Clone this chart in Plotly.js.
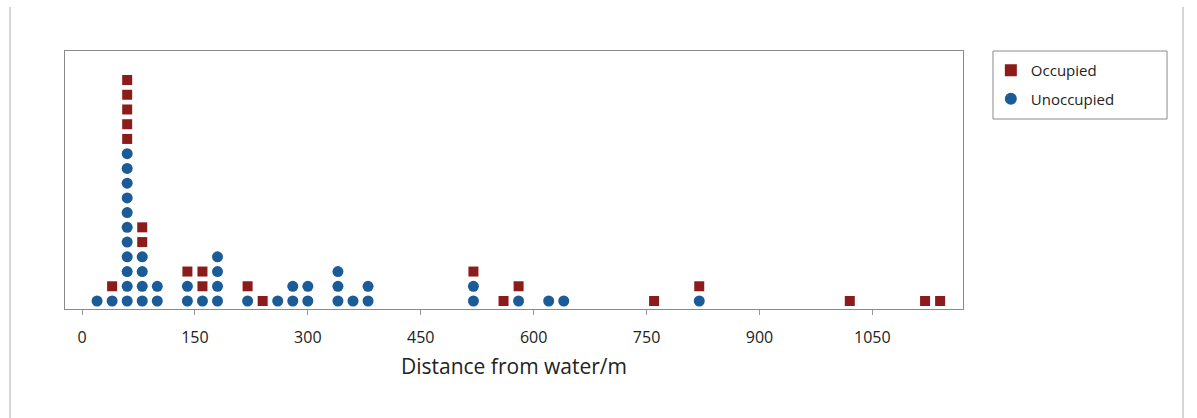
<!DOCTYPE html>
<html>
<head>
<meta charset="utf-8">
<script src="https://cdn.plot.ly/plotly-3.0.1.min.js"></script>
<style>html,body{margin:0;padding:0;background:#fff;}#chart{width:1197px;height:418px;}</style>
</head>
<body>
<div id="chart"></div>
<script>
// Observations (distance from water, m), binned at 20 m as in the dotplot
const unoccupied = [20, 40,
  60,60,60,60,60,60,60,60,60,60,60,
  80,80,80,80, 100,100, 140,140, 160, 180,180,180,180,
  220, 260, 280,280, 300,300, 340,340,340, 360, 380,380,
  520,520, 580, 620, 640, 820];
const occupied = [40, 60,60,60,60,60, 80,80, 140, 160,160, 220, 240,
  520, 560, 580, 760, 820, 1020, 1120, 1140];
const groupNames = ["Occupied", "Unoccupied"];
const tickVals = [0, 150, 300, 450, 600, 750, 900, 1050];

// Stack dots: unoccupied at bottom of each column, occupied on top
const counts = {};
function stack(vals) {
  const xs = [], ys = [];
  vals.forEach(v => {
    counts[v] = (counts[v] || 0) + 1;
    xs.push(v); ys.push(counts[v]);
  });
  return {xs, ys};
}
const sU = stack(unoccupied);
const sO = stack(occupied);

const traceO = {
  x: sO.xs, y: sO.ys, type: 'scatter', mode: 'markers', name: groupNames[0],
  legendgroup: 'o',
  marker: {symbol: 'square', size: 10, color: '#8C1B1B'}
};
const traceU = {
  x: sU.xs, y: sU.ys, type: 'scatter', mode: 'markers', name: groupNames[1],
  legendgroup: 'u',
  marker: {symbol: 'circle', size: 11, color: '#1B5C98'}
};

const layout = {
  width: 1197, height: 418,
  margin: {l: 65, r: 234, t: 51, b: 109},
  paper_bgcolor: '#ffffff', plot_bgcolor: '#ffffff',
  font: {family: 'Open Sans, Noto Sans, sans-serif', color: '#333'},
  showlegend: true,
  xaxis: {
    range: [-22.6, 1170.4], tickvals: tickVals, ticktext: tickVals.map(String),
    ticks: 'outside', ticklen: 5, tickcolor: '#999', tickwidth: 1,
    ticklabelstandoff: 9,
    showline: true, linecolor: '#8a8a8a', linewidth: 1, mirror: true,
    showgrid: false, zeroline: false,
    tickfont: {size: 16, color: '#222'},
    title: {text: 'Distance from water/m', font: {size: 21, color: '#222'}, standoff: 12}
  },
  yaxis: {
    range: [0.457, 17.97], showticklabels: false, ticks: '',
    showline: true, linecolor: '#8a8a8a', linewidth: 1, mirror: true,
    showgrid: false, zeroline: false
  },
  legend: {
    x: 1.031, y: 0.988, xanchor: 'left', yanchor: 'top',
    borderwidth: 0, bgcolor: 'rgba(0,0,0,0)',
    font: {size: 15, color: '#222'}, traceorder: 'grouped', tracegroupgap: 6,
    itemsizing: 'constant'
  },
  shapes: [
    {type: 'rect', xref: 'paper', yref: 'paper', x0: 1.0334, x1: 1.2272, y0: 1, y1: 0.7364, line: {color: '#8a8a8a', width: 1}},
    {type: 'line', xref: 'paper', yref: 'paper', x0: -0.0612, x1: -0.0612, y0: 1.1705, y1: -0.4225, line: {color: '#d6d6d6', width: 2}},
    {type: 'line', xref: 'paper', yref: 'paper', x0: 1.245, x1: 1.245, y0: 1.1705, y1: -0.4225, line: {color: '#d6d6d6', width: 2}}
  ]
};

Plotly.newPlot('chart', [traceO, traceU], layout, {displayModeBar: false, staticPlot: true});
</script>
</body>
</html>
